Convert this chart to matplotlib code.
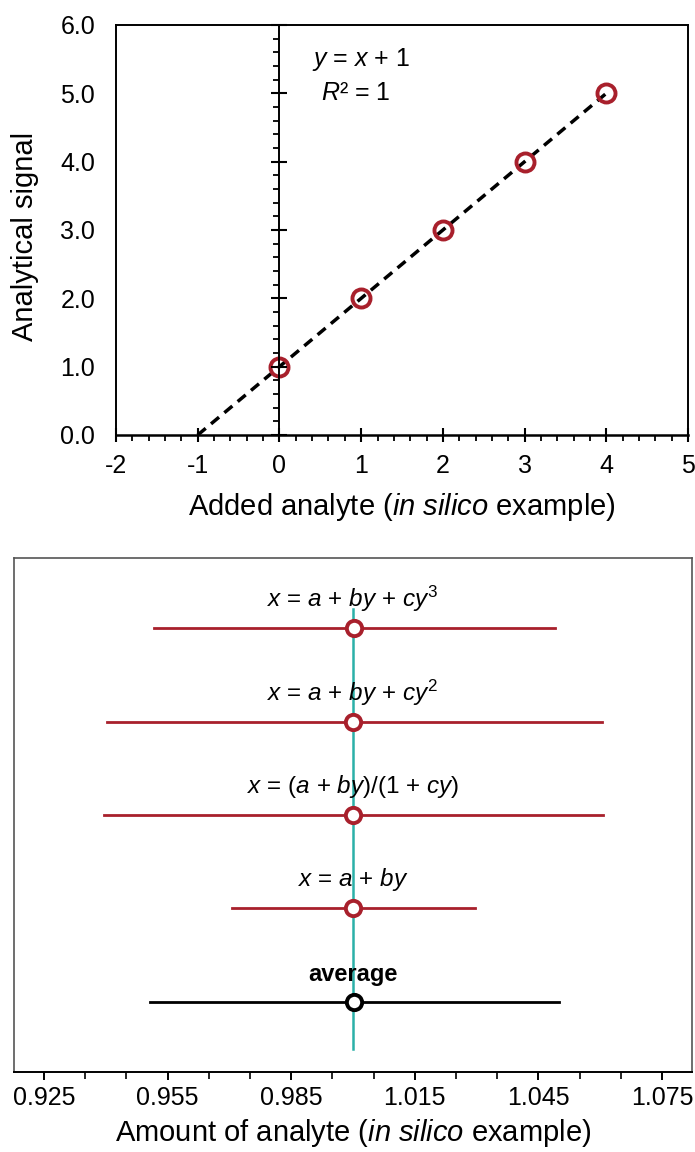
import numpy as np
import matplotlib
matplotlib.use('Agg')
import matplotlib.pyplot as plt
from matplotlib.ticker import MultipleLocator, FixedLocator

plt.rcParams['font.family'] = ['Liberation Sans', 'DejaVu Sans']
plt.rcParams['mathtext.fontset'] = 'custom'
plt.rcParams['mathtext.rm'] = 'Liberation Sans'
plt.rcParams['mathtext.it'] = 'Liberation Sans:italic'
plt.rcParams['mathtext.bf'] = 'Liberation Sans:bold'
plt.rcParams['axes.unicode_minus'] = False

#%% datos
added = [0, 1, 2, 3, 4]
signal = [1, 2, 3, 4, 5]
fit_x = [-1, 4]
fit_y = [0, 5]

modelos = ['$x$ = $a$ + $by$ + $cy^3$',
           '$x$ = $a$ + $by$ + $cy^2$',
           '$x$ = ($a$ + $by$)/(1 + $cy$)',
           '$x$ = $a$ + $by$',
           'average']
centros = [1.0003, 1.0001, 1.0, 1.0, 1.0002]
bajos = [0.9517, 0.9403, 0.9396, 0.9707, 0.9507]
altos = [1.0491, 1.0605, 1.0608, 1.0297, 1.0501]
filas = [5, 4, 3, 2, 1]
verdadero = 1.0

ticks_abajo = [0.925, 0.955, 0.985, 1.015, 1.045, 1.075]
etiquetas_abajo = ['0.925', '0.955', '0.985', '1.015', '1.045', '1.075']

rojo = '#A8202C'
teal = '#2BB0A8'

fig = plt.figure(figsize=(6.95, 11.52), dpi=100)

#%% arriba
ax = fig.add_axes([0.1669, 0.6224, 0.8231, 0.3559])
ax.set_xlim(-2, 5)
ax.set_ylim(0, 6)
ax.plot(fit_x, fit_y, color='black', lw=2.5, ls=(0, (3.0, 2.0)), zorder=3)
ax.plot(added, signal, 'o', ms=13, mfc='none', mec=rojo, mew=2.8, zorder=4)
for s in ['top', 'right', 'left']:
    ax.spines[s].set_linewidth(1.4)
ax.spines['bottom'].set_linewidth(1.8)
ax.xaxis.set_major_locator(MultipleLocator(1))
ax.xaxis.set_minor_locator(MultipleLocator(0.2))
ax.tick_params(axis='x', which='major', direction='inout', length=10, width=1.5,
               labelsize=18, pad=9)
ax.tick_params(axis='x', which='minor', direction='out', length=4, width=1.3)
ax.set_yticks(np.arange(0, 6.1, 1.0))
ax.set_yticklabels(['%.1f' % v for v in np.arange(0, 6.1, 1.0)])
ax.tick_params(axis='y', which='both', length=0, labelsize=18, pad=15)

# eje y en x=0 con sus ticks
ax2 = ax.twinx()
ax2.set_ylim(0, 6)
ax2.spines['right'].set_position(('data', 0))
ax2.spines['right'].set_linewidth(1.4)
for s in ['top', 'left', 'bottom']:
    ax2.spines[s].set_visible(False)
ax2.yaxis.set_major_locator(MultipleLocator(1))
ax2.yaxis.set_minor_locator(MultipleLocator(0.2))
ax2.tick_params(axis='y', which='major', direction='inout', length=11, width=1.5,
                labelright=False)
ax2.tick_params(axis='y', which='minor', direction='in', length=4.5, width=1.3)

ax.text(1.0, 5.5, '$y$ = $x$ + 1', ha='center', va='center', fontsize=18)
ax.text(0.93, 5.0, '$R$² = 1', ha='center', va='center', fontsize=18)
ax.set_ylabel('Analytical signal', fontsize=21)
ax.yaxis.set_label_coords(-0.134, 0.485)
ax.set_xlabel('Added analyte ($in$ $silico$ example)', fontsize=21, labelpad=9)

#%% abajo
bx = fig.add_axes([0.0201, 0.0694, 0.9756, 0.4462])
bx.set_xlim(0.9177, 1.0823)
bx.set_ylim(0.25, 5.75)
bx.plot([verdadero, verdadero], [0.5, 5.2], color=teal, lw=1.8, zorder=1)
for i in range(len(modelos)):
    col = 'black' if modelos[i] == 'average' else rojo
    bx.plot([bajos[i], altos[i]], [filas[i], filas[i]], color=col, lw=2.0, zorder=2)
    bx.plot(centros[i], filas[i], 'o', ms=11, mfc='white', mec=col, mew=2.8, zorder=3)
    if modelos[i] == 'average':
        bx.text(1.0, filas[i] + 0.29, modelos[i], ha='center', va='center',
                fontsize=17, fontweight='bold')
    else:
        bx.text(1.0, filas[i] + 0.31, modelos[i], ha='center', va='center',
                fontsize=17.5)
for s in bx.spines.values():
    s.set_color('#555555')
    s.set_linewidth(1.2)
bx.spines['bottom'].set_color('black')
bx.spines['bottom'].set_linewidth(1.4)
bx.set_yticks([])
menores = [t + d for t in ticks_abajo for d in (0.01, 0.02) if t + d < 1.08]
bx.xaxis.set_major_locator(FixedLocator(ticks_abajo))
bx.xaxis.set_minor_locator(FixedLocator(menores))
bx.set_xticklabels(etiquetas_abajo)
bx.tick_params(axis='x', which='major', direction='out', length=6, width=1.4,
               labelsize=18, pad=4)
bx.tick_params(axis='x', which='minor', direction='out', length=5, width=1.2)
bx.set_xlabel('Amount of analyte ($in$ $silico$ example)', fontsize=21, labelpad=5)

fig.savefig('out.png', dpi=100)
